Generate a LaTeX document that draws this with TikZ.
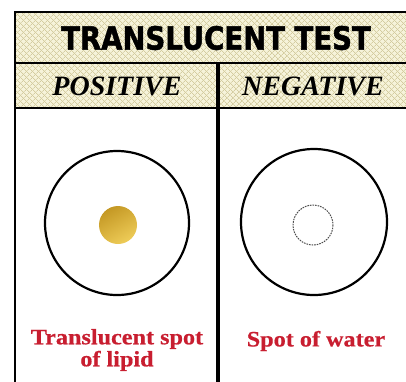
\documentclass[tikz,border=0pt]{standalone}
\usepackage{fontspec}
\setmainfont{Liberation Serif}
\newfontfamily\titlefont[BoldFeatures={FakeStretch=0.86, FakeBold=1.6}]{DejaVu Sans}
\newfontfamily\notefont[BoldFeatures={FakeStretch=1.1, FakeBold=0.6}]{Liberation Serif}
\usetikzlibrary{patterns.meta}
\definecolor{sfondo}{RGB}{246,243,218}
\definecolor{trama}{RGB}{212,204,160}
\definecolor{rosso}{RGB}{200,30,48}
\definecolor{oroscuro}{RGB}{196,152,36}
\definecolor{orochiaro}{RGB}{238,204,88}
\begin{document}
\begin{tikzpicture}[
		x=1pt, y=-1pt,
		bordo/.style={line width=1.6pt, black},
		divisore/.style={line width=4pt, black},
		piastra/.style={line width=2.2pt, black},
		titolo/.style={font=\titlefont\bfseries\fontsize{32}{34}\selectfont},
		intesta/.style={font=\bfseries\itshape\fontsize{28}{30}\selectfont},
		didascalia/.style={font=\notefont\bfseries\fontsize{22}{22}\selectfont, text=rosso, align=center}]
		
		\useasboundingbox (0,0) rectangle (406,381);
		
		%% coordinate chiave
		\def\xL{15}      %% bordo sinistro
		\def\xM{218}     %% divisore centrale
		\def\xR{412}     %% bordo destro (fuori pagina)
		\def\yA{12}      %% alto
		\def\yB{63}      %% fine riga titolo
		\def\yC{108}     %% fine riga intestazioni
		
		%% --- fondo a trama delle intestazioni ---
		\fill[sfondo] (\xL,\yA) rectangle (\xR,\yC);
		\fill[pattern={Lines[angle=45, distance=4pt, line width=0.7pt]}, pattern color=trama] (\xL,\yA) rectangle (\xR,\yC);
		\fill[pattern={Lines[angle=-45, distance=4pt, line width=0.7pt]}, pattern color=trama] (\xL,\yA) rectangle (\xR,\yC);
		
		%% --- bordi della tabella ---
		\draw[bordo] (\xR,\yA) -- (\xL,\yA) -- (\xL,390);
		\draw[bordo] (\xL,\yB) -- (\xR,\yB);
		\draw[bordo] (\xL,\yC) -- (\xR,\yC);
		\draw[divisore] (\xM,\yB) -- (\xM,390);
		
		%% --- testi delle intestazioni ---
		\node[titolo] (titolo) at (216,38) {TRANSLUCENT TEST};
		\node[intesta] (positivo) at (117,86) {POSITIVE};
		\node[intesta] (negativo) at (313,86) {NEGATIVE};
		
		%% --- piastre ---
		\draw[piastra] (117,223) circle (72);
		\draw[piastra] (314,222) circle (73);
		
		%% --- macchia di lipide e macchia d'acqua ---
		\shade[left color=oroscuro, right color=orochiaro, shading angle=30] (118,225) circle (19);
		\draw[gray!60!black, line width=1pt, dash pattern=on 1.6pt off 1pt] (313,225) circle (20);
		
		%% --- didascalie ---
		\node[didascalia] (lipide) at (117,350) {Translucent spot\\of lipid};
		\node[didascalia] (acqua) at (316,341) {Spot of water};
		
	\end{tikzpicture}
\end{document}
